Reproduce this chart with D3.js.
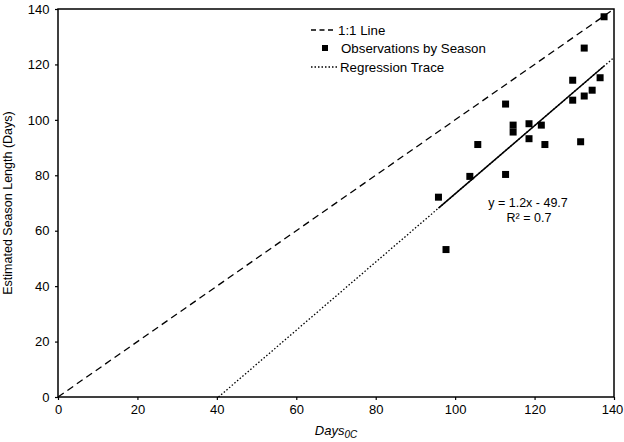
<!DOCTYPE html>
<html>
<head>
<meta charset="utf-8">
<script src="https://cdn.jsdelivr.net/npm/d3@7"></script>
<style>
  body { margin: 0; background: #fff; }
  text { font-family: "Liberation Sans", Arial, sans-serif; fill: #000; }
</style>
</head>
<body>
<div id="container"></div>
<script>
// DATA

const daysObserved = [137.5, 132.5, 136.5, 129.6, 134.5, 132.5, 129.6, 112.7, 114.6, 118.6,
                      121.7, 114.6, 118.6, 105.7, 122.6, 131.6, 103.7, 112.7, 95.8, 97.7];
const seasonLength = [137.2, 125.9, 115.2, 114.3, 110.7, 108.6, 107.1, 105.7, 98.1, 98.6,
                      98.1, 95.6, 93.2, 91.1, 91.1, 92.1, 79.6, 80.3, 72.1, 53.2];
const xTicks = [0, 20, 40, 60, 80, 100, 120, 140];
const yTicks = [0, 20, 40, 60, 80, 100, 120, 140];
const regSlope = 1.23;
const regIntercept = -49.7;
const legendLabels = ["1:1 Line", "Observations by Season", "Regression Trace"];

// VARIABLES

const width = 624;
const height = 442;
const margin = {top: 9, right: 10, bottom: 45, left: 58};

const points = daysObserved.map((d, i) => ({x: d, y: seasonLength[i]}));

// SCALES

const x = d3.scaleLinear().domain([0, 140]).range([margin.left, width - margin.right]);
const y = d3.scaleLinear().domain([0, 140]).range([height - margin.bottom, margin.top]);

const svg = d3.select("#container")
  .append("svg")
  .attr("width", width)
  .attr("height", height);

// AXES

svg.append("g")
  .attr("transform", `translate(0,${y(0)})`)
  .call(d3.axisBottom(x).tickValues(xTicks).tickSize(3).tickSizeOuter(0))
  .call(g => g.select(".domain").remove())
  .call(g => g.selectAll("text").attr("font-size", 13).attr("dy", "0.85em"))
  .call(g => g.selectAll("text").filter(d => d === 140).attr("dx", -2));

svg.append("g")
  .attr("transform", `translate(${x(0)},0)`)
  .call(d3.axisLeft(y).tickValues(yTicks).tickSize(3).tickSizeOuter(0))
  .call(g => g.select(".domain").remove())
  .call(g => g.selectAll("text").attr("font-size", 13).attr("dx", "-0.2em"));

svg.selectAll(".tick line").attr("stroke", "#000").attr("stroke-width", 1.2);

// frame
svg.append("rect")
  .attr("x", x(0))
  .attr("y", y(140))
  .attr("width", x(140) - x(0))
  .attr("height", y(0) - y(140))
  .attr("fill", "none")
  .attr("stroke", "#000")
  .attr("stroke-width", 1.5);

// LINES

const line = d3.line().x(d => x(d[0])).y(d => y(d[1]));

svg.append("path")
  .attr("d", line([[0, 0], [140, 140]]))
  .attr("stroke", "#000")
  .attr("stroke-width", 1.3)
  .attr("stroke-dasharray", "7,4.5")
  .attr("fill", "none");

const root = -regIntercept / regSlope;
svg.append("path")
  .attr("d", line([[root, 0], [140, regSlope * 140 + regIntercept]]))
  .attr("stroke", "#000")
  .attr("stroke-width", 1.3)
  .attr("stroke-dasharray", "1.5,2")
  .attr("fill", "none");

const xmin = d3.min(daysObserved), xmax = d3.max(daysObserved);
svg.append("path")
  .attr("d", line([[xmin, regSlope * xmin + regIntercept], [xmax, regSlope * xmax + regIntercept]]))
  .attr("stroke", "#000")
  .attr("stroke-width", 1.5)
  .attr("fill", "none");

// POINTS

svg.selectAll("rect.pt")
  .data(points)
  .join("rect")
  .attr("class", "pt")
  .attr("x", d => x(d.x) - 3.5)
  .attr("y", d => y(d.y) - 3.5)
  .attr("width", 7)
  .attr("height", 7)
  .attr("fill", "#000");

// EQUATION

svg.append("text")
  .attr("x", 528).attr("y", 207)
  .attr("text-anchor", "middle")
  .attr("font-size", 12.5)
  .text("y = 1.2x - 49.7");
svg.append("text")
  .attr("x", 529).attr("y", 222)
  .attr("text-anchor", "middle")
  .attr("font-size", 12.5)
  .text("R² = 0.7");

// LEGEND

const legendY = [30, 48, 67];
const legend = svg.append("g");
legend.append("line")
  .attr("x1", 311).attr("x2", 336).attr("y1", legendY[0]).attr("y2", legendY[0])
  .attr("stroke", "#000").attr("stroke-width", 1.3).attr("stroke-dasharray", "5,3.5");
legend.append("rect")
  .attr("x", 322).attr("y", legendY[1] - 3).attr("width", 6).attr("height", 6).attr("fill", "#000");
legend.append("line")
  .attr("x1", 311).attr("x2", 337).attr("y1", legendY[2]).attr("y2", legendY[2])
  .attr("stroke", "#000").attr("stroke-width", 1.3).attr("stroke-dasharray", "1.5,2");
legend.selectAll("text")
  .data(legendLabels)
  .join("text")
  .attr("x", (d, i) => [338, 341, 340][i])
  .attr("y", (d, i) => legendY[i])
  .attr("dy", "0.35em")
  .attr("font-size", 13.3)
  .text(d => d);

// AXIS TITLES

svg.append("text")
  .attr("transform", `translate(12,${(y(0) + y(140)) / 2}) rotate(-90)`)
  .attr("text-anchor", "middle")
  .attr("font-size", 12.5)
  .text("Estimated Season Length (Days)");

const xt = svg.append("text")
  .attr("x", (x(0) + x(140)) / 2)
  .attr("y", 435)
  .attr("text-anchor", "middle")
  .attr("font-size", 13)
  .attr("font-style", "italic");
xt.append("tspan").text("Days");
xt.append("tspan").attr("font-size", 10).attr("dy", 3).text("0C");
</script>
</body>
</html>
